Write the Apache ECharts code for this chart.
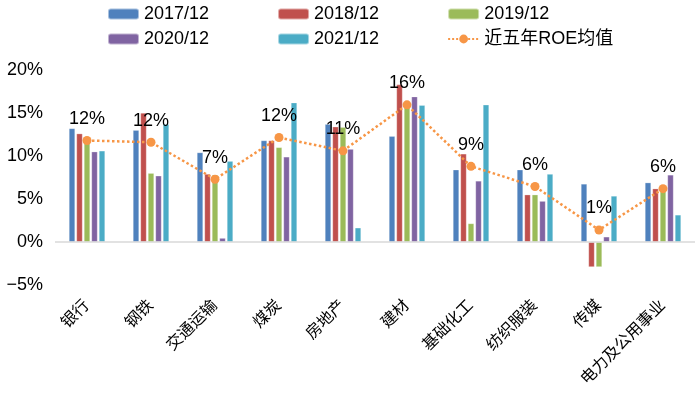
<!DOCTYPE html>
<html>
<head>
<meta charset="utf-8">
<script src="https://cdn.jsdelivr.net/npm/echarts@6/dist/echarts.min.js"></script>
<style>
  html, body { margin: 0; padding: 0; background: #fff; }
  #main { width: 700px; height: 396px; }
</style>
</head>
<body>
<div id="main"></div>
<script>
  // 行业ROE (%)
  const categories = ['银行', '钢铁', '交通运输', '煤炭', '房地产', '建材', '基础化工', '纺织服装', '传媒', '电力及公用事业']
  const roe2017 = [13.2, 13.0, 10.4, 11.8, 13.7, 12.3, 8.4, 8.4, 6.75, 6.9]
  const roe2018 = [12.6, 15.0, 7.9, 11.8, 13.4, 18.3, 10.25, 5.5, -2.9, 6.2]
  const roe2019 = [12.0, 8.0, 7.8, 11.0, 13.35, 15.7, 2.15, 5.5, -2.9, 6.0]
  const roe2020 = [10.5, 7.7, 0.45, 9.9, 10.8, 16.9, 7.1, 4.75, 0.6, 7.8]
  const roe2021 = [10.6, 13.7, 9.4, 16.2, 1.65, 15.9, 15.95, 7.9, 5.35, 3.15]
  const roeAvg = [11.8, 11.6, 7.3, 12.15, 10.6, 15.95, 8.8, 6.45, 1.4, 6.2]
  const yearNames = ['2017/12', '2018/12', '2019/12', '2020/12', '2021/12']
  const avgName = '近五年ROE均值'

  const font = "'Liberation Sans', Arial, 'Noto Sans CJK SC', sans-serif"
  const colors = ['#4F81BD', '#C0504D', '#9BBB59', '#8064A2', '#4BACC6']
  const yearData = [roe2017, roe2018, roe2019, roe2020, roe2021]

  const myChart = echarts.init(document.getElementById('main'), null, { renderer: 'canvas' })

  const barSeries = yearNames.map((name, i) => ({
    name: name,
    type: 'bar',
    data: yearData[i],
    barWidth: 6,
    barGap: '25%',
    itemStyle: {
      color: colors[i],
      borderColor: 'rgba(255,255,255,0.5)',
      borderWidth: 0.5
    },
    // 0% 基线
    markLine: i === 0 ? {
      silent: true,
      symbol: 'none',
      label: { show: false },
      lineStyle: { color: '#d9d9d9', width: 1.5, type: 'solid' },
      data: [{ yAxis: 0 }]
    } : undefined
  }))

  const legendCommon = {
    left: 107,
    padding: 0,
    itemWidth: 31,
    itemHeight: 11,
    itemGap: 68,
    textStyle: { fontSize: 18, color: '#000', fontFamily: font }
  }

  const option = {
    animation: false,
    textStyle: { fontFamily: font },
    legend: [
      Object.assign({ top: 5, data: yearNames.slice(0, 3) }, legendCommon),
      Object.assign({ top: 30, data: [yearNames[3], yearNames[4], avgName] }, legendCommon)
    ],
    grid: { left: 55, right: 5, top: 70, bottom: 111, containLabel: false },
    xAxis: {
      type: 'category',
      data: categories,
      axisLine: { show: false, onZero: false },
      axisTick: { show: false },
      axisLabel: {
        rotate: 45,
        margin: 18,
        interval: 0,
        fontSize: 16,
        color: '#000',
        fontFamily: font
      }
    },
    yAxis: {
      type: 'value',
      min: -5,
      max: 20,
      interval: 5,
      axisLine: { show: false },
      axisTick: { show: false },
      splitLine: { show: false },
      axisLabel: {
        margin: 12,
        fontSize: 18,
        color: '#000',
        fontFamily: font,
        formatter: v => (v < 0 ? '−' + Math.abs(v) : v) + '%'
      }
    },
    series: barSeries.concat([{
      name: avgName,
      type: 'line',
      data: roeAvg,
      symbol: 'circle',
      symbolSize: 9,
      z: 5,
      itemStyle: { color: '#F79646' },
      lineStyle: { color: '#F79646', width: 2.5, type: 'dotted' },
      label: {
        show: true,
        position: 'top',
        distance: 8,
        fontSize: 18,
        color: '#000',
        fontFamily: font,
        formatter: p => Math.round(p.value) + '%'
      }
    }])
  }

  myChart.setOption(option)
</script>
</body>
</html>
